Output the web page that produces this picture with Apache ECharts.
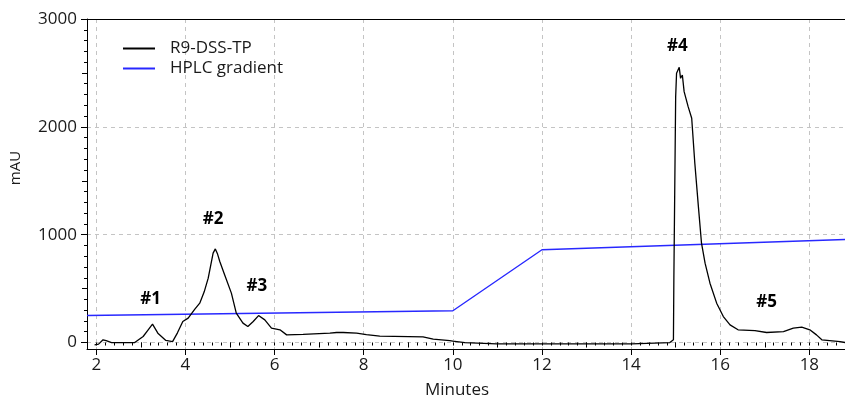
<!DOCTYPE html>
<html>
<head>
<meta charset="utf-8">
<script src="https://cdn.jsdelivr.net/npm/echarts@6/dist/echarts.min.js"></script>
<style>
html,body{margin:0;padding:0;background:#fff;}
#chart{width:845px;height:403px;}
</style>
</head>
<body>
<div id="chart"></div>
<script>
// ---- Data ----
const traceTime = [1.96,2.05,2.15,2.22,2.34,2.86,3.05,3.15,3.26,3.38,3.56,3.71,3.82,3.94,4.06,4.21,4.32,4.42,4.51,4.62,4.67,4.72,4.77,4.88,5.03,5.14,5.29,5.40,5.52,5.64,5.78,5.93,6.12,6.27,6.64,6.68,7.24,7.39,7.54,7.84,8.06,8.36,9.33,9.56,9.93,10.0,10.27,10.98,14.01,14.87,14.95,14.96,15.0,15.02,15.08,15.11,15.15,15.19,15.28,15.36,15.43,15.51,15.58,15.66,15.77,15.92,16.07,16.22,16.40,16.78,17.04,17.42,17.64,17.83,18.01,18.16,18.28,18.69,18.80];
const traceMAU  = [-21,-15,25,18,0,0,56,110,170,87,19,9,90,195,226,309,365,470,597,829,868,820,751,627,458,272,180,148,195,250,210,133,118,71,75,87,87,93,93,87,74,60,52,32,18,13,0,-12,-12,0,25,612,2280,2497,2552,2450,2481,2326,2187,2080,1663,1260,921,736,550,365,241,164,118,111,93,102,133,143,118,71,25,9,0];

const gradTime = [1.79,10,12,18.8];
const gradMAU  = [250,295,860,955];

const seriesNames = ['R9-DSS-TP','HPLC gradient'];

const annotLabels = ['#1','#2','#3','#4','#5'];
const annotTime   = [3.22,4.62,5.60,15.04,17.04];
const annotMAU    = [400,1140,520,2750,371];

const xMajorTicks = [2,4,6,8,10,12,14,16,18];
const xMidTicks   = [3,5,7,9,11,13,15,17];
const yMajorTicks = [0,1000,2000,3000];
const yMidTicks   = [500,1500,2500];

// minor tick positions (every 0.2 min / every 100 mAU)
const xMinorTicks = [];
for (let i = 9; i <= 94; i++) xMinorTicks.push(+(i * 0.2).toFixed(2));
const yMinorTicks = [];
for (let i = 0; i <= 30; i++) yMinorTicks.push(i * 100);

const X_MIN = 1.79, X_MAX = 18.8, Y_MIN = -60, Y_MAX = 3000;

const FONT = 'Open Sans';
const FS = 17;
const gridLine = { show: true, lineStyle: { color: '#c4c4c4', type: [4, 4], width: 1 } };

function xAxisLayer(ticks, len, opts) {
  return Object.assign({
    type: 'value', min: X_MIN, max: X_MAX, position: 'bottom',
    axisLine: { show: false },
    axisTick: { show: true, inside: false, length: len, customValues: ticks, lineStyle: { color: '#000', width: 1 } },
    axisLabel: { show: false },
    splitLine: { show: false }
  }, opts || {});
}
function yAxisLayer(ticks, len, opts) {
  return Object.assign({
    type: 'value', min: Y_MIN, max: Y_MAX, position: 'left',
    axisLine: { show: false },
    axisTick: { show: true, inside: false, length: len, customValues: ticks, lineStyle: { color: '#000', width: 1 } },
    axisLabel: { show: false },
    splitLine: { show: false }
  }, opts || {});
}

const chart = echarts.init(document.getElementById('chart'), null, { renderer: 'canvas' });

chart.setOption({
  animation: false,
  backgroundColor: '#fff',
  textStyle: { fontFamily: FONT },
  grid: { left: 87, top: 19, right: 0, bottom: 54, containLabel: false, outerBoundsMode: 'none' },
  legend: {
    data: seriesNames,
    orient: 'vertical',
    left: 118, top: 35,
    icon: 'rect',
    itemWidth: 32, itemHeight: 2, itemGap: 3,
    textStyle: { fontFamily: FONT, fontSize: FS, color: '#1a1a1a', padding: [0, 0, 0, 10] }
  },
  xAxis: [
    xAxisLayer(xMajorTicks, 6, {
      axisLine: { show: true, onZero: false, lineStyle: { color: '#000', width: 1 } },
      axisLabel: { show: true, customValues: xMajorTicks, margin: 8, color: '#1a1a1a', fontSize: FS, fontFamily: FONT },
      splitLine: gridLine,
      name: 'Minutes', nameLocation: 'middle', nameGap: 33,
      nameTextStyle: { fontSize: FS, color: '#1a1a1a', fontFamily: FONT, padding: [0, 18, 0, 0] }
    }),
    xAxisLayer(xMidTicks, 5),
    xAxisLayer(xMinorTicks, 3),
    {
      type: 'value', min: X_MIN, max: X_MAX, position: 'top',
      axisLine: { show: true, onZero: false, lineStyle: { color: '#000', width: 1 } },
      axisTick: { show: false }, axisLabel: { show: false }, splitLine: { show: false }
    }
  ],
  yAxis: [
    yAxisLayer(yMajorTicks, 6, {
      axisLine: { show: true, onZero: false, lineStyle: { color: '#000', width: 1 } },
      axisLabel: { show: true, customValues: yMajorTicks, margin: 10, color: '#1a1a1a', fontSize: FS, fontFamily: FONT,
                   formatter: v => String(v) },
      splitLine: gridLine,
      name: 'mAU', nameLocation: 'middle', nameGap: 64,
      nameTextStyle: { fontSize: 15, color: '#1a1a1a', fontFamily: FONT, padding: [0, 0, 0, 32] }
    }),
    yAxisLayer(yMidTicks, 5),
    yAxisLayer(yMinorTicks, 3)
  ],
  series: [
    {
      name: seriesNames[0], type: 'line', xAxisIndex: 0, yAxisIndex: 0,
      data: traceTime.map((t, i) => [t, traceMAU[i]]),
      symbol: 'none', smooth: false,
      lineStyle: { color: '#000', width: 1.3 }, itemStyle: { color: '#000' },
      z: 3
    },
    {
      name: seriesNames[1], type: 'line', xAxisIndex: 0, yAxisIndex: 0,
      data: gradTime.map((t, i) => [t, gradMAU[i]]),
      symbol: 'none',
      lineStyle: { color: '#2828ff', width: 1.4 }, itemStyle: { color: '#2828ff' },
      z: 2,
      markPoint: {
        symbol: 'circle', symbolSize: 0, silent: true,
        label: { show: true, position: 'inside', formatter: p => p.name, fontFamily: FONT, fontSize: FS, fontWeight: 'bold', color: '#000' },
        data: annotLabels.map((l, i) => ({ name: l, coord: [annotTime[i], annotMAU[i]] }))
      }
    }
  ]
});
</script>
</body>
</html>
